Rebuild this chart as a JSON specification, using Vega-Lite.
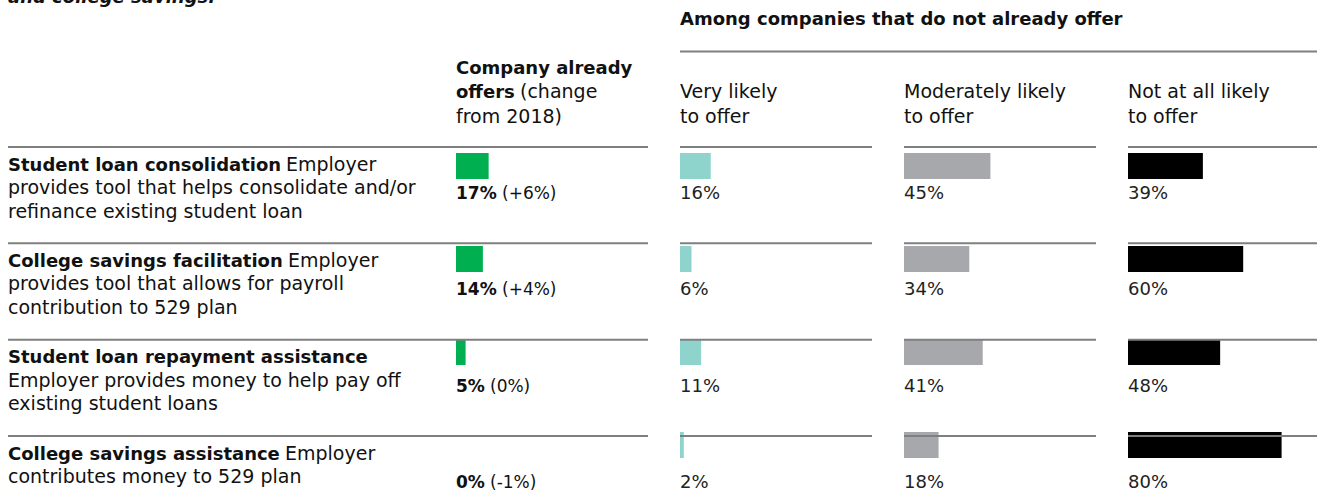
{
  "$schema": "https://vega.github.io/schema/vega-lite/v6.json",
  "width": 1317,
  "height": 493,
  "padding": 0,
  "autosize": {"type": "fit", "contains": "padding"},
  "background": "white",
  "config": {"view": {"stroke": null}, "text": {"font": "DejaVu Sans"}},
  "datasets": {
    "items": [
      {"row": 0, "item": "Student loan consolidation", "cont": "Employer", "desc": ["provides tool that helps consolidate and/or", "refinance existing student loan"], "offers": 0.17, "chg": "(+6%)", "very": 0.16, "moderate": 0.45, "notatall": 0.39},
      {"row": 1, "item": "College savings facilitation", "cont": "Employer", "desc": ["provides tool that allows for payroll", "contribution to 529 plan"], "offers": 0.14, "chg": "(+4%)", "very": 0.06, "moderate": 0.34, "notatall": 0.60},
      {"row": 2, "item": "Student loan repayment assistance", "cont": "", "desc": ["Employer provides money to help pay off", "existing student loans"], "offers": 0.05, "chg": "(0%)", "very": 0.11, "moderate": 0.41, "notatall": 0.48},
      {"row": 3, "item": "College savings assistance", "cont": "Employer", "desc": ["contributes money to 529 plan"], "offers": 0.0, "chg": "(-1%)", "very": 0.02, "moderate": 0.18, "notatall": 0.80}
    ],
    "title": [{"t": "and college savings."}],
    "headBold": [
      {"col": "very", "line": -2, "text": "Among companies that do not already offer"},
      {"col": "offers", "line": 0, "text": "Company already"},
      {"col": "offers", "line": 1, "text": "offers"}
    ],
    "headNormal": [
      {"col": "offers", "line": 2, "text": "from 2018)"},
      {"col": "very", "line": 1, "text": "Very likely"},
      {"col": "very", "line": 2, "text": "to offer"},
      {"col": "moderate", "line": 1, "text": "Moderately likely"},
      {"col": "moderate", "line": 2, "text": "to offer"},
      {"col": "notatall", "line": 1, "text": "Not at all likely"},
      {"col": "notatall", "line": 2, "text": "to offer"}
    ],
    "headCont": [{"col": "offers", "line": 1, "text": "(change"}],
    "one": [{"k": 0}]
  },
  "resolve": {"scale": {"x": "independent", "y": "independent"}},
  "layer": [
    {
      "data": {"name": "title"},
      "mark": {"type": "text", "fontSize": 18, "fontWeight": "bold", "fontStyle": "italic", "align": "left", "baseline": "alphabetic", "color": "#111111", "clip": true},
      "encoding": {
        "x": {"datum": "label", "type": "nominal", "scale": {"type": "point", "domain": ["label", "gap", "offers", "very", "moderate", "notatall"], "range": [8, 1128], "padding": 0}, "axis": null},
        "y": {"datum": 0, "type": "quantitative", "scale": {"domain": [0, 1], "range": [3, 27.5], "nice": false, "zero": false}, "axis": null},
        "text": {"field": "t"}
      }
    },
    {
      "data": {"name": "one"},
      "mark": {"type": "rule", "color": "#7f7f7f", "strokeWidth": 2},
      "encoding": {
        "x": {"datum": 0, "type": "quantitative", "scale": {"domain": [0, 1], "range": [680, 1317], "nice": false, "zero": false}, "axis": null},
        "x2": {"datum": 1},
        "y": {"datum": 0, "type": "quantitative", "scale": {"domain": [0, 1], "range": [51.5, 52.5], "nice": false, "zero": false}, "axis": null}
      }
    },
    {
      "data": {"name": "headBold"},
      "mark": {"type": "text", "fontSize": 18, "fontWeight": "bold", "align": "left", "baseline": "alphabetic", "color": "#111111"},
      "encoding": {
        "x": {"field": "col", "type": "nominal", "scale": {"type": "point", "domain": ["label", "gap", "offers", "very", "moderate", "notatall"], "range": [8, 1128], "padding": 0}, "axis": null},
        "y": {"field": "line", "type": "quantitative", "scale": {"domain": [0, 2], "range": [73.5, 122.5], "nice": false, "zero": false}, "axis": null},
        "text": {"field": "text"}
      }
    },
    {
      "data": {"name": "headNormal"},
      "mark": {"type": "text", "fontSize": 19, "align": "left", "baseline": "alphabetic", "color": "#111111"},
      "encoding": {
        "x": {"field": "col", "type": "nominal", "scale": {"type": "point", "domain": ["label", "gap", "offers", "very", "moderate", "notatall"], "range": [8, 1128], "padding": 0}, "axis": null},
        "y": {"field": "line", "type": "quantitative", "scale": {"domain": [0, 2], "range": [73.5, 122.5], "nice": false, "zero": false}, "axis": null},
        "text": {"field": "text"}
      }
    },
    {
      "data": {"name": "headCont"},
      "mark": {"type": "text", "fontSize": 19, "align": "left", "baseline": "alphabetic", "color": "#111111", "dx": 64},
      "encoding": {
        "x": {"field": "col", "type": "nominal", "scale": {"type": "point", "domain": ["label", "gap", "offers", "very", "moderate", "notatall"], "range": [8, 1128], "padding": 0}, "axis": null},
        "y": {"field": "line", "type": "quantitative", "scale": {"domain": [0, 2], "range": [73.5, 122.5], "nice": false, "zero": false}, "axis": null},
        "text": {"field": "text"}
      }
    },
    {
      "data": {"name": "items"},
      "mark": {"type": "bar", "orient": "horizontal", "height": 26, "color": "#00b050"},
      "encoding": {
        "x": {"field": "offers", "type": "quantitative", "scale": {"domain": [0, 1], "range": [456, 648], "nice": false}, "axis": null},
        "y": {"field": "row", "type": "quantitative", "scale": {"domain": [0, 3], "range": [161, 450], "nice": false, "zero": false}, "axis": null}
      }
    },
    {
      "data": {"name": "items"},
      "mark": {"type": "bar", "orient": "horizontal", "height": 26, "color": "#8fd4cc"},
      "encoding": {
        "x": {"field": "very", "type": "quantitative", "scale": {"domain": [0, 1], "range": [680, 872], "nice": false}, "axis": null},
        "y": {"field": "row", "type": "quantitative", "scale": {"domain": [0, 3], "range": [161, 450], "nice": false, "zero": false}, "axis": null}
      }
    },
    {
      "data": {"name": "items"},
      "mark": {"type": "bar", "orient": "horizontal", "height": 26, "color": "#a7a8ab"},
      "encoding": {
        "x": {"field": "moderate", "type": "quantitative", "scale": {"domain": [0, 1], "range": [904, 1096], "nice": false}, "axis": null},
        "y": {"field": "row", "type": "quantitative", "scale": {"domain": [0, 3], "range": [161, 450], "nice": false, "zero": false}, "axis": null}
      }
    },
    {
      "data": {"name": "items"},
      "mark": {"type": "bar", "orient": "horizontal", "height": 26, "color": "#000000"},
      "encoding": {
        "x": {"field": "notatall", "type": "quantitative", "scale": {"domain": [0, 1], "range": [1128, 1320], "nice": false}, "axis": null},
        "y": {"field": "row", "type": "quantitative", "scale": {"domain": [0, 3], "range": [161, 450], "nice": false, "zero": false}, "axis": null}
      }
    },
    {
      "data": {"name": "items"},
      "mark": {"type": "rule", "color": "#7f7f7f", "strokeWidth": 2},
      "encoding": {
        "x": {"datum": 0, "type": "quantitative", "scale": {"domain": [0, 1], "range": [8, 648], "nice": false, "zero": false}, "axis": null},
        "x2": {"datum": 1},
        "y": {"field": "row", "type": "quantitative", "scale": {"domain": [0, 3], "range": [147, 436], "nice": false, "zero": false}, "axis": null}
      }
    },
    {
      "data": {"name": "items"},
      "mark": {"type": "rule", "color": "#7f7f7f", "strokeWidth": 2},
      "encoding": {
        "x": {"datum": 0, "type": "quantitative", "scale": {"domain": [0, 1], "range": [680, 872], "nice": false, "zero": false}, "axis": null},
        "x2": {"datum": 1},
        "y": {"field": "row", "type": "quantitative", "scale": {"domain": [0, 3], "range": [147, 436], "nice": false, "zero": false}, "axis": null}
      }
    },
    {
      "data": {"name": "items"},
      "mark": {"type": "rule", "color": "#7f7f7f", "strokeWidth": 2},
      "encoding": {
        "x": {"datum": 0, "type": "quantitative", "scale": {"domain": [0, 1], "range": [904, 1096], "nice": false, "zero": false}, "axis": null},
        "x2": {"datum": 1},
        "y": {"field": "row", "type": "quantitative", "scale": {"domain": [0, 3], "range": [147, 436], "nice": false, "zero": false}, "axis": null}
      }
    },
    {
      "data": {"name": "items"},
      "mark": {"type": "rule", "color": "#7f7f7f", "strokeWidth": 2},
      "encoding": {
        "x": {"datum": 0, "type": "quantitative", "scale": {"domain": [0, 1], "range": [1128, 1317], "nice": false, "zero": false}, "axis": null},
        "x2": {"datum": 1},
        "y": {"field": "row", "type": "quantitative", "scale": {"domain": [0, 3], "range": [147, 436], "nice": false, "zero": false}, "axis": null}
      }
    },
    {
      "data": {"name": "items"},
      "mark": {"type": "text", "fontSize": 18, "fontWeight": "bold", "align": "left", "baseline": "alphabetic", "color": "#111111"},
      "encoding": {
        "x": {"datum": "label", "type": "nominal", "scale": {"type": "point", "domain": ["label", "gap", "offers", "very", "moderate", "notatall"], "range": [8, 1128], "padding": 0}, "axis": null},
        "y": {"field": "row", "type": "quantitative", "scale": {"domain": [0, 3], "range": [170.5, 459.5], "nice": false, "zero": false}, "axis": null},
        "text": {"field": "item"}
      }
    },
    {
      "data": {"name": "items"},
      "transform": [{"filter": "datum.row == 0"}],
      "mark": {"type": "text", "fontSize": 19, "align": "left", "baseline": "alphabetic", "color": "#111111", "dx": 278},
      "encoding": {
        "x": {"datum": "label", "type": "nominal", "scale": {"type": "point", "domain": ["label", "gap", "offers", "very", "moderate", "notatall"], "range": [8, 1128], "padding": 0}, "axis": null},
        "y": {"field": "row", "type": "quantitative", "scale": {"domain": [0, 3], "range": [170.5, 459.5], "nice": false, "zero": false}, "axis": null},
        "text": {"field": "cont"}
      }
    },
    {
      "data": {"name": "items"},
      "transform": [{"filter": "datum.row == 1"}],
      "mark": {"type": "text", "fontSize": 19, "align": "left", "baseline": "alphabetic", "color": "#111111", "dx": 280},
      "encoding": {
        "x": {"datum": "label", "type": "nominal", "scale": {"type": "point", "domain": ["label", "gap", "offers", "very", "moderate", "notatall"], "range": [8, 1128], "padding": 0}, "axis": null},
        "y": {"field": "row", "type": "quantitative", "scale": {"domain": [0, 3], "range": [170.5, 459.5], "nice": false, "zero": false}, "axis": null},
        "text": {"field": "cont"}
      }
    },
    {
      "data": {"name": "items"},
      "transform": [{"filter": "datum.row == 3"}],
      "mark": {"type": "text", "fontSize": 19, "align": "left", "baseline": "alphabetic", "color": "#111111", "dx": 277},
      "encoding": {
        "x": {"datum": "label", "type": "nominal", "scale": {"type": "point", "domain": ["label", "gap", "offers", "very", "moderate", "notatall"], "range": [8, 1128], "padding": 0}, "axis": null},
        "y": {"field": "row", "type": "quantitative", "scale": {"domain": [0, 3], "range": [170.5, 459.5], "nice": false, "zero": false}, "axis": null},
        "text": {"field": "cont"}
      }
    },
    {
      "data": {"name": "items"},
      "mark": {"type": "text", "fontSize": 19, "align": "left", "baseline": "alphabetic", "color": "#111111", "lineHeight": 23.5},
      "encoding": {
        "x": {"datum": "label", "type": "nominal", "scale": {"type": "point", "domain": ["label", "gap", "offers", "very", "moderate", "notatall"], "range": [8, 1128], "padding": 0}, "axis": null},
        "y": {"field": "row", "type": "quantitative", "scale": {"domain": [0, 3], "range": [194, 483], "nice": false, "zero": false}, "axis": null},
        "text": {"field": "desc"}
      }
    },
    {
      "data": {"name": "items"},
      "mark": {"type": "text", "fontSize": 17, "fontWeight": "bold", "align": "left", "baseline": "alphabetic", "color": "#111111"},
      "encoding": {
        "x": {"datum": "offers", "type": "nominal", "scale": {"type": "point", "domain": ["label", "gap", "offers", "very", "moderate", "notatall"], "range": [8, 1128], "padding": 0}, "axis": null},
        "y": {"field": "row", "type": "quantitative", "scale": {"domain": [0, 3], "range": [199, 488], "nice": false, "zero": false}, "axis": null},
        "text": {"field": "offers", "type": "quantitative", "format": ".0%"}
      }
    },
    {
      "data": {"name": "items"},
      "transform": [{"filter": "datum.offers >= 0.1"}],
      "mark": {"type": "text", "fontSize": 17, "align": "left", "baseline": "alphabetic", "color": "#111111", "dx": 46},
      "encoding": {
        "x": {"datum": "offers", "type": "nominal", "scale": {"type": "point", "domain": ["label", "gap", "offers", "very", "moderate", "notatall"], "range": [8, 1128], "padding": 0}, "axis": null},
        "y": {"field": "row", "type": "quantitative", "scale": {"domain": [0, 3], "range": [199, 488], "nice": false, "zero": false}, "axis": null},
        "text": {"field": "chg"}
      }
    },
    {
      "data": {"name": "items"},
      "transform": [{"filter": "datum.offers < 0.1"}],
      "mark": {"type": "text", "fontSize": 17, "align": "left", "baseline": "alphabetic", "color": "#111111", "dx": 34},
      "encoding": {
        "x": {"datum": "offers", "type": "nominal", "scale": {"type": "point", "domain": ["label", "gap", "offers", "very", "moderate", "notatall"], "range": [8, 1128], "padding": 0}, "axis": null},
        "y": {"field": "row", "type": "quantitative", "scale": {"domain": [0, 3], "range": [199, 488], "nice": false, "zero": false}, "axis": null},
        "text": {"field": "chg"}
      }
    },
    {
      "data": {"name": "items"},
      "transform": [{"fold": ["very", "moderate", "notatall"], "as": ["key", "value"]}],
      "mark": {"type": "text", "fontSize": 18, "align": "left", "baseline": "alphabetic", "color": "#222222"},
      "encoding": {
        "x": {"field": "key", "type": "nominal", "scale": {"type": "point", "domain": ["label", "gap", "offers", "very", "moderate", "notatall"], "range": [8, 1128], "padding": 0}, "axis": null},
        "y": {"field": "row", "type": "quantitative", "scale": {"domain": [0, 3], "range": [199, 488], "nice": false, "zero": false}, "axis": null},
        "text": {"field": "value", "type": "quantitative", "format": ".0%"}
      }
    }
  ]
}
